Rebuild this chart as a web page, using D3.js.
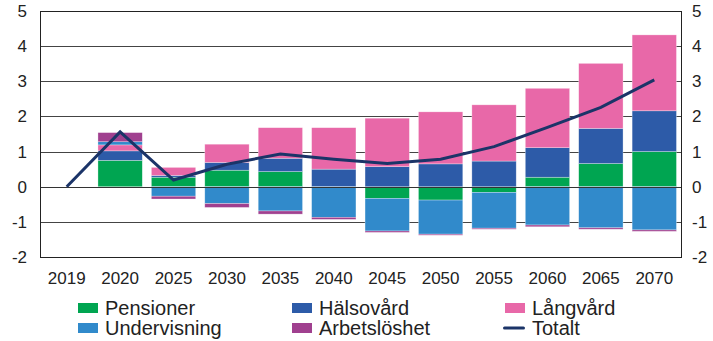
<!DOCTYPE html>
<html>
<head>
<meta charset="utf-8">
<script src="https://cdn.jsdelivr.net/npm/d3@7"></script>
<style>
body { margin: 0; background: #fff; }
text { font-family: "Liberation Sans", Arial, sans-serif; fill: #222; }
</style>
</head>
<body>
<script>
var years = ["2019", "2020", "2025", "2030", "2035", "2040", "2045", "2050", "2055", "2060", "2065", "2070"];
var pensioner    = [0, 0.75, 0.27, 0.47, 0.43, 0, -0.33, -0.38, -0.16, 0.27, 0.66, 1.00];
var halsovard    = [0, 0.27, 0.05, 0.22, 0.38, 0.50, 0.57, 0.65, 0.73, 0.84, 1.00, 1.16];
var langvard     = [0, 0.17, 0.23, 0.52, 0.87, 1.18, 1.38, 1.48, 1.60, 1.69, 1.85, 2.16];
var undervisning = [0, 0.09, -0.27, -0.48, -0.69, -0.87, -0.93, -0.97, -1.02, -1.09, -1.17, -1.23];
var arbetsloshet = [0, 0.26, -0.08, -0.11, -0.09, -0.06, -0.04, -0.03, -0.03, -0.05, -0.04, -0.04];
var totalt       = [0, 1.56, 0.19, 0.64, 0.93, 0.78, 0.66, 0.78, 1.14, 1.69, 2.26, 3.04];
var yTicks = [-2, -1, 0, 1, 2, 3, 4, 5];

var seriesNames = ["Pensioner", "Hälsovård", "Långvård", "Undervisning", "Arbetslöshet"];
var seriesVals = [pensioner, halsovard, langvard, undervisning, arbetsloshet];
var colors = ["#00a551", "#2d5ba8", "#e868a8", "#318acb", "#a0408f"];
var lineColor = "#1b3468";

var width = 713, height = 341;
var margin = {top: 11, right: 32, bottom: 84, left: 40};

var svg = d3.select("body").append("svg")
    .attr("width", width)
    .attr("height", height);

var x = d3.scaleBand().domain(years)
    .range([margin.left, width - margin.right])
    .paddingInner(0.17).paddingOuter(0.085);
var y = d3.scaleLinear().domain([-2, 5])
    .range([height - margin.bottom, margin.top]);

// build table for stacking
var table = years.map(function(yr, i) {
  var row = {year: yr};
  seriesNames.forEach(function(s, j) { row[s] = seriesVals[j][i]; });
  return row;
});
var stacked = d3.stack().keys(seriesNames).offset(d3.stackOffsetDiverging)(table);

// gridlines
svg.append("g").selectAll("line")
  .data(yTicks)
  .enter().append("line")
    .attr("x1", margin.left)
    .attr("x2", width - margin.right)
    .attr("y1", function(d) { return Math.round(y(d)) + 0.5; })
    .attr("y2", function(d) { return Math.round(y(d)) + 0.5; })
    .attr("stroke", "#444")
    .attr("stroke-width", 1);

// bars
svg.append("g").selectAll("g")
  .data(stacked)
  .enter().append("g")
    .attr("fill", function(d, i) { return colors[i]; })
  .selectAll("rect")
  .data(function(d) { return d; })
  .enter().append("rect")
    .attr("x", function(d) { return x(d.data.year); })
    .attr("width", x.bandwidth())
    .attr("y", function(d) { return y(Math.max(d[0], d[1])); })
    .attr("height", function(d) { return Math.abs(y(d[0]) - y(d[1])); })
    .attr("stroke", "#fff")
    .attr("stroke-opacity", 0.5)
    .attr("stroke-width", function(d) { return d[0] == d[1] ? 0 : 0.6; });

// zero line above bars
svg.append("line")
    .attr("x1", margin.left).attr("x2", width - margin.right)
    .attr("y1", Math.round(y(0)) + 0.5).attr("y2", Math.round(y(0)) + 0.5)
    .attr("stroke", "#333").attr("stroke-width", 1);

// total line
var line = d3.line()
    .x(function(d, i) { return x(years[i]) + x.bandwidth() / 2; })
    .y(function(d) { return y(d); });
svg.append("path")
    .datum(totalt)
    .attr("d", line)
    .attr("fill", "none")
    .attr("stroke", lineColor)
    .attr("stroke-width", 3);

// frame
svg.append("rect")
    .attr("x", margin.left + 0.5)
    .attr("y", margin.top + 0.5)
    .attr("width", width - margin.left - margin.right)
    .attr("height", height - margin.top - margin.bottom)
    .attr("fill", "none")
    .attr("stroke", "#222")
    .attr("stroke-width", 1);

// y labels left and right
svg.append("g").selectAll("text")
  .data(yTicks)
  .enter().append("text")
    .attr("x", 27)
    .attr("y", function(d) { return y(d); })
    .attr("dy", "0.35em")
    .style("text-anchor", "end")
    .style("font-size", "17px")
    .text(function(d) { return d; });

svg.append("g").selectAll("text")
  .data(yTicks)
  .enter().append("text")
    .attr("x", 692)
    .attr("y", function(d) { return y(d); })
    .attr("dy", "0.35em")
    .style("text-anchor", "start")
    .style("font-size", "17px")
    .text(function(d) { return d; });

// x labels
svg.append("g").selectAll("text")
  .data(years)
  .enter().append("text")
    .attr("x", function(d) { return x(d) + x.bandwidth() / 2; })
    .attr("y", 284)
    .style("text-anchor", "middle")
    .style("font-size", "17px")
    .text(function(d) { return d; });

// legend
var legendItems = seriesNames.concat(["Totalt"]);
var colX = [78, 292, 505];
var rowY = [308, 328];
var legend = svg.append("g").selectAll("g")
  .data(legendItems)
  .enter().append("g")
    .attr("transform", function(d, i) {
      return "translate(" + colX[i % 3] + "," + rowY[Math.floor(i / 3)] + ")";
    });

legend.append("rect")
    .attr("x", function(d, i) { return i == 5 ? -2 : 0; })
    .attr("y", function(d, i) { return i == 5 ? -1.5 : -5; })
    .attr("width", function(d, i) { return i == 5 ? 22 : 20; })
    .attr("height", function(d, i) { return i == 5 ? 3 : 10; })
    .attr("rx", function(d, i) { return i == 5 ? 1.5 : 0; })
    .attr("fill", function(d, i) { return i == 5 ? lineColor : colors[i]; });

legend.append("text")
    .attr("x", 27)
    .attr("y", 0)
    .attr("dy", "0.36em")
    .style("font-size", "20px")
    .text(function(d) { return d; });
</script>
</body>
</html>
